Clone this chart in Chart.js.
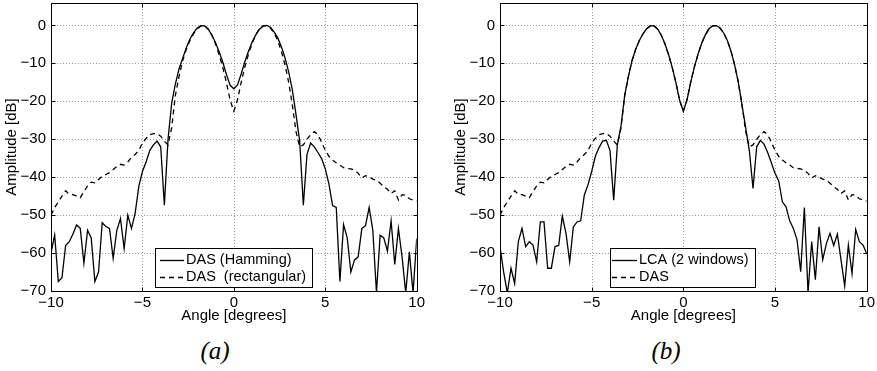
<!DOCTYPE html>
<html>
<head>
<meta charset="utf-8">
<script src="https://cdn.jsdelivr.net/npm/chart.js@4.4.0/dist/chart.umd.min.js"></script>
<style>
  html, body { margin: 0; padding: 0; background: #fff; }
  body { width: 877px; height: 371px; position: relative; overflow: hidden; }
  canvas { position: absolute; top: 0; }
  #chartA { left: 0; }
  #chartB { left: 449px; }
  .caption {
    position: absolute; top: 337px; line-height: 28px;
    font: italic 25px "Liberation Serif", serif; color: #000;
    transform: translateX(-50%);
  }
</style>
</head>
<body>
<canvas id="chartA" width="440" height="330"></canvas>
<canvas id="chartB" width="428" height="330"></canvas>
<div class="caption" style="left:215px">(a)</div>
<div class="caption" style="left:666px">(b)</div>
<script>
// angle grid in degrees
const angles = [
  -10, -9.8, -9.6, -9.4, -9.2, -9, -8.8, -8.6, -8.4, -8.2,
  -8, -7.8, -7.6, -7.4, -7.2, -7, -6.8, -6.6, -6.4, -6.2,
  -6, -5.8, -5.6, -5.4, -5.2, -5, -4.8, -4.6, -4.4, -4.2,
  -4, -3.8, -3.6, -3.4, -3.2, -3, -2.8, -2.6, -2.4, -2.2,
  -2, -1.8, -1.6, -1.4, -1.2, -1, -0.8, -0.6, -0.4, -0.2,
  0, 0.2, 0.4, 0.6, 0.8, 1, 1.2, 1.4, 1.6, 1.8,
  2, 2.2, 2.4, 2.6, 2.8, 3, 3.2, 3.4, 3.6, 3.8,
  4, 4.2, 4.4, 4.6, 4.8, 5, 5.2, 5.4, 5.6, 5.8,
  6, 6.2, 6.4, 6.6, 6.8, 7, 7.2, 7.4, 7.6, 7.8,
  8, 8.2, 8.4, 8.6, 8.8, 9, 9.2, 9.4, 9.6, 9.8,
  10
];

// (a) solid: DAS with Hamming window [dB]
const dasHamming = [
  -60, -55.3, -67.5, -66.5, -58, -57, -55, -52.6, -53.5, -62.7,
  -54, -56, -67.5, -65, -52, -53, -53.5, -61.4, -54, -50.9,
  -58.8, -50, -53.5, -49.6, -42.5, -38.5, -36, -33, -31.5, -30.5,
  -32, -47.4, -30, -20.5, -15.5, -11.5, -8.7, -5.9, -3.6, -1.9,
  -0.7, -0.05, -0.15, -1.0, -2.6, -4.6, -7.0, -9.8, -13.0, -15.8,
  -16.7, -15.7, -12.8, -9.6, -6.8, -4.4, -2.5, -1.0, -0.2, 0,
  -0.5, -1.7, -3.3, -5.6, -8.6, -12.3, -17, -23.5, -30.5, -47.4,
  -34, -31, -32, -33.5, -35.1, -37.8, -41.8, -47.5, -48, -67.5,
  -52.5, -56, -65, -61.8, -61, -53.5, -52.8, -48, -54, -70.5,
  -55.3, -56, -59.5, -51.5, -63, -53.5, -61, -70.5, -59.7, -70.5,
  -56.2
];

// dashed: DAS with rectangular window [dB] (same in both panels)
const dasRect = [
  -50, -48, -46.5, -45, -43.6, -44.5, -44.6, -45, -45.4, -43.8,
  -42.3, -41.3, -41.5, -40.6, -39.8, -39.3, -38.8, -38, -37.2, -36.6,
  -36.8, -36, -34.8, -34, -33, -31, -29.8, -28.8, -28.5, -28.5,
  -29.2, -30.5, -31.5, -27, -18.5, -13.5, -9.3, -6.3, -4.0, -2.2,
  -0.9, -0.15, -0.1, -1.0, -2.6, -4.9, -7.8, -11.2, -15.2, -19.8,
  -22.6, -19.6, -15, -11, -7.6, -4.7, -2.5, -0.9, -0.1, -0.05,
  -0.7, -2.0, -4.0, -6.8, -10.5, -15, -21, -28, -32, -31.5,
  -30, -28.8, -28, -28.8, -30.8, -32.9, -34.5, -35.5, -36.2, -36.8,
  -37.5, -37.7, -37.8, -38.2, -39, -40.2, -39.6, -40, -40.5, -40.8,
  -41.6, -42.5, -43.2, -44.3, -43.6, -46, -44.6, -44.8, -45.7, -46,
  -46.3
];

// (b) solid: LCA with 2 windows [dB]
const lca = [
  -58.3, -65, -70.5, -64, -68, -57, -53.5, -58.3, -57, -57.9,
  -62.3, -51.8, -51.8, -64, -64, -58.3, -58, -50.3, -54.8, -62.3,
  -53.1, -51.8, -51.5, -44.7, -42, -38.5, -34.5, -32.2, -30.5, -30.3,
  -33, -46.1, -31.5, -26.5, -18.5, -13.5, -9.3, -6.3, -4.0, -2.2,
  -0.9, -0.15, -0.1, -1.0, -2.6, -4.9, -7.8, -11.2, -15.2, -19.8,
  -22.6, -19.6, -15, -11, -7.6, -4.7, -2.5, -0.9, -0.1, -0.05,
  -0.7, -2.0, -4.0, -6.8, -10.5, -15, -21, -27, -33, -43,
  -32, -30.3, -31.3, -33.5, -36.2, -39, -41, -46.5, -47.8, -51.5,
  -53.5, -56.5, -64.9, -48, -70.5, -57, -67, -53.1, -61.8, -57.5,
  -54.8, -58, -55, -61.8, -68.7, -57.9, -65.4, -53.8, -57, -57.9,
  -60.1
];

const xTicks = [-10, -5, 0, 5, 10];
const yTicks = [-70, -60, -50, -40, -30, -20, -10, 0];

Chart.defaults.color = "#000";
Chart.defaults.font.family = "'Liberation Sans', Arial, sans-serif";
Chart.defaults.font.size = 15;

const fmt = v => (v < 0 ? "\u2212" + Math.abs(v) : String(v));
const pts = arr => arr.map((v, i) => ({ x: angles[i], y: v }));

const matlabAxes = {
  id: "matlabAxes",
  beforeDatasetsDraw(chart) {
    const { ctx, chartArea: a, scales: { x, y } } = chart;
    ctx.save();
    ctx.strokeStyle = "#9a9a9a";
    ctx.lineWidth = 1;
    ctx.setLineDash([1, 2]);
    ctx.beginPath();
    xTicks.slice(1, -1).forEach(v => {
      const px = Math.round(x.getPixelForValue(v)) + 0.5;
      ctx.moveTo(px, a.top);
      ctx.lineTo(px, a.bottom);
    });
    yTicks.slice(1).forEach(v => {
      const py = Math.round(y.getPixelForValue(v)) + 0.5;
      ctx.moveTo(a.left, py);
      ctx.lineTo(a.right, py);
    });
    ctx.stroke();
    ctx.restore();
  },
  afterDatasetsDraw(chart, args, opts) {
    const { ctx, chartArea: a, scales: { x, y } } = chart;
    const L = Math.round(a.left) + 0.5, R = Math.round(a.right) + 0.5;
    const T = Math.round(a.top) + 0.5, B = Math.round(a.bottom) + 0.5;
    ctx.save();
    ctx.strokeStyle = "#000";
    ctx.lineWidth = 1;
    ctx.setLineDash([]);
    ctx.strokeRect(L, T, R - L, B - T);
    ctx.beginPath();
    xTicks.forEach(v => {
      const px = Math.round(x.getPixelForValue(v)) + 0.5;
      ctx.moveTo(px, B); ctx.lineTo(px, B - 4);
      ctx.moveTo(px, T); ctx.lineTo(px, T + 4);
    });
    yTicks.forEach(v => {
      const py = Math.round(y.getPixelForValue(v)) + 0.5;
      ctx.moveTo(L, py); ctx.lineTo(L + 4, py);
      ctx.moveTo(R, py); ctx.lineTo(R - 4, py);
    });
    ctx.stroke();

    // legend box
    const lg = opts.legend;
    ctx.fillStyle = "#fff";
    ctx.fillRect(lg.x, lg.y, lg.w, lg.h);
    ctx.strokeRect(lg.x + 0.5, lg.y + 0.5, lg.w, lg.h);
    ctx.font = "14.5px 'Liberation Sans', Arial, sans-serif";
    ctx.fillStyle = "#000";
    ctx.textBaseline = "middle";
    chart.data.datasets.forEach((ds, i) => {
      const ry = lg.rows[i] + 0.5;
      ctx.lineWidth = ds.borderWidth;
      ctx.setLineDash(ds.borderDash || []);
      ctx.beginPath();
      ctx.moveTo(lg.lineX, ry);
      ctx.lineTo(lg.lineX + lg.lineW, ry);
      ctx.stroke();
      ctx.fillText(ds.label, lg.textX, lg.rows[i]);
    });
    ctx.restore();
  }
};

function makeChart(id, solidLabel, solidData, dashLabel, padRight, legend) {
  new Chart(document.getElementById(id), {
    type: "line",
    data: {
      datasets: [
        { label: solidLabel, data: pts(solidData), borderColor: "#000", borderWidth: 1.3,
          pointRadius: 0, tension: 0, fill: false },
        { label: dashLabel, data: pts(dasRect), borderColor: "#000", borderWidth: 1.3,
          borderDash: [5, 4], pointRadius: 0, tension: 0, fill: false }
      ]
    },
    options: {
      responsive: false,
      animation: false,
      events: [],
      layout: { padding: { left: 0, right: padRight, top: 3, bottom: 5 } },
      plugins: {
        legend: { display: false },
        tooltip: { enabled: false },
        matlabAxes: { legend: legend }
      },
      scales: {
        x: {
          type: "linear", min: -10, max: 10,
          grid: { display: false, drawTicks: false },
          border: { display: false },
          ticks: { stepSize: 5, autoSkip: false, maxRotation: 0, padding: 3, callback: fmt },
          title: { display: true, text: "Angle [degrees]", padding: { top: 0, bottom: 0 } },
          afterFit(s) { s.height = 34; s.paddingLeft = 0; s.paddingRight = 0; }
        },
        y: {
          type: "linear", min: -70, max: 5.9,
          grid: { display: false, drawTicks: false },
          border: { display: false },
          ticks: { stepSize: 10, includeBounds: false, autoSkip: false, padding: 5, callback: fmt },
          title: { display: true, text: "Amplitude [dB]", padding: { top: 3, bottom: 0 } },
          afterFit(s) { s.width = 51; s.paddingTop = 0; s.paddingBottom = 0; }
        }
      }
    },
    plugins: [matlabAxes]
  });
}

makeChart("chartA", "DAS (Hamming)", dasHamming, "DAS  (rectangular)", 23.3,
  { x: 155, y: 248, w: 157, h: 39, lineX: 160, lineW: 24, textX: 186, rows: [260, 277] });
makeChart("chartB", "LCA (2 windows)", lca, "DAS", 10.3,
  { x: 161, y: 248, w: 145, h: 39, lineX: 163, lineW: 25, textX: 190, rows: [260, 277] });
</script>
</body>
</html>
